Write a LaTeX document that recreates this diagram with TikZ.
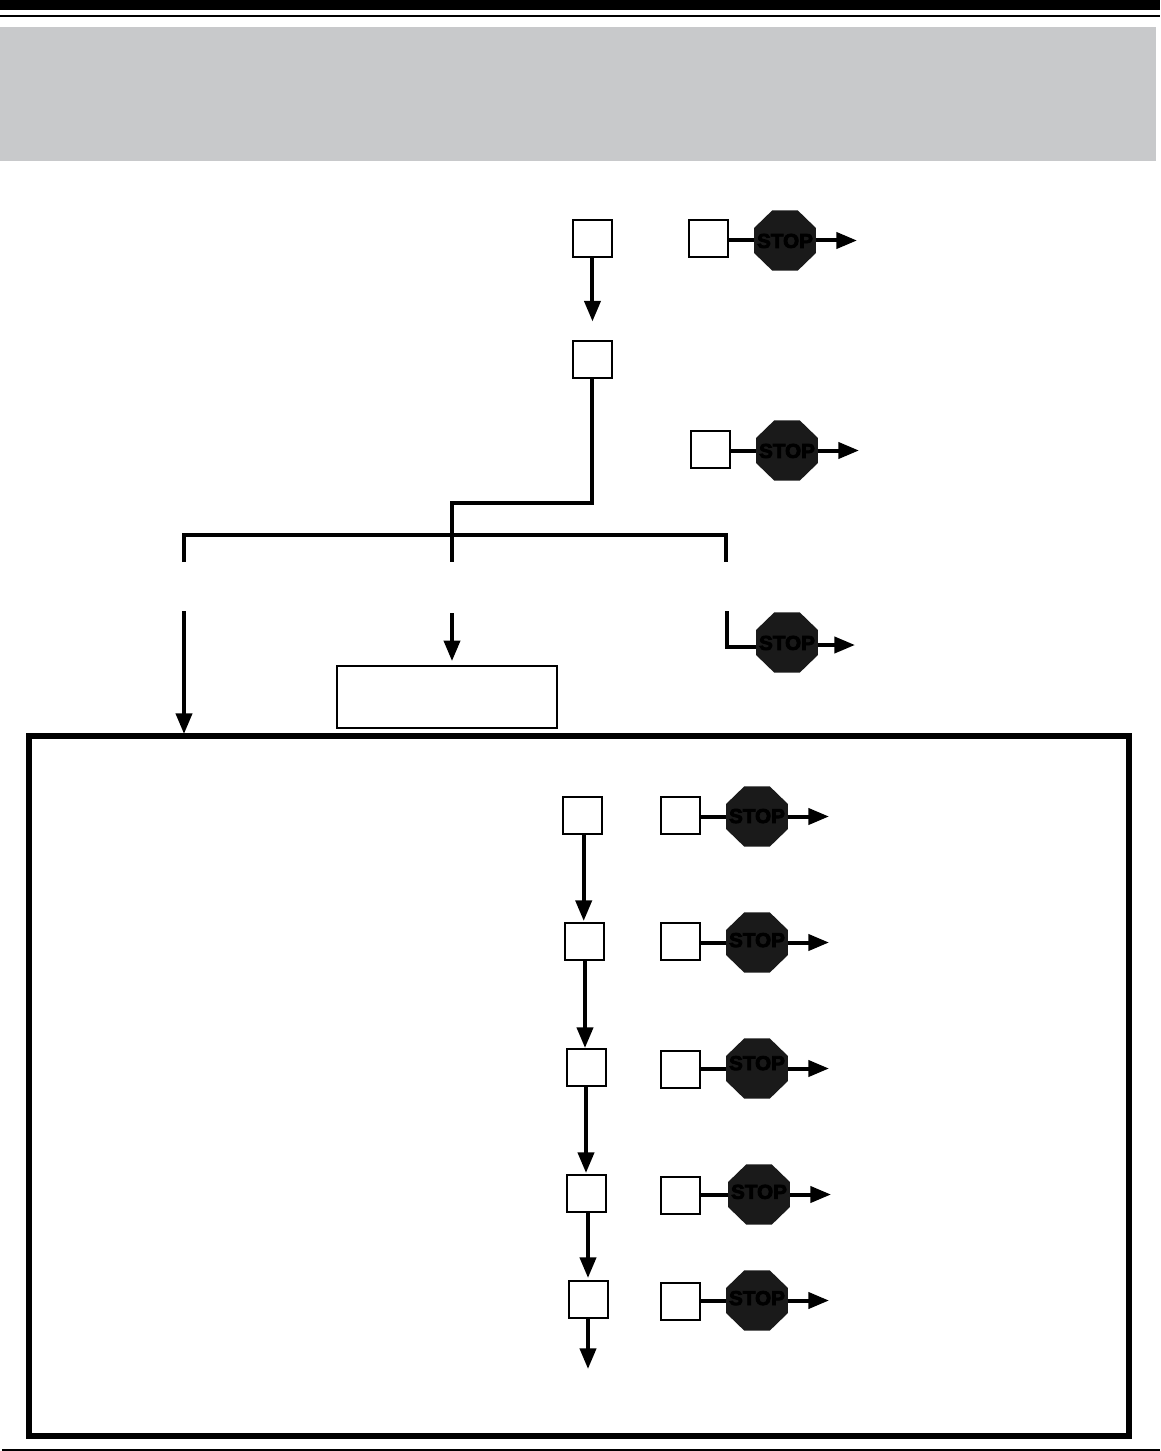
\documentclass[tikz,border=0pt]{standalone}
\usepackage{fontspec}
\usepackage{xcolor}
\usetikzlibrary{arrows.meta,shapes.geometric}
\newfontfamily\stopfont[FakeBold=4]{Liberation Sans Bold}
\definecolor{bandgray}{HTML}{C8C9CB}
\definecolor{signgray}{HTML}{1A1A1A}
\newcommand{\stoplabel}[1][0pt]{\smash{\makebox[0pt]{\raisebox{\dimexpr#1-5.7pt}{STOP}}}}

\begin{document}
\begin{tikzpicture}[
  x=0.75pt, y=-0.75pt,
  box/.style={draw, line width=1.5pt, minimum width=29.25pt, minimum height=27.75pt, inner sep=0pt, xshift=-0.4pt},
  stopsign/.style={regular polygon, regular polygon sides=8, fill=signgray, minimum size=50.3pt, inner sep=0pt, font=\stopfont\fontsize{15.5pt}{15.5pt}\selectfont, text=black, yscale=0.97, transform shape},
  conn/.style={line width=3pt},
  arr/.style={conn, -{Triangle[length=15.5pt, width=12pt]}},
  frame/.style={draw, line width=4.5pt}
]
\useasboundingbox (0,0) rectangle (1160,1451);
% header and footer
\fill (0,0) rectangle (1160,10);
\fill (0,15) rectangle (1160,17);
\fill[bandgray] (0,27) rectangle (1156,161);
\fill (2,1449) rectangle (1160,1451);

% upper part
\node[box] (q1) at (593,239) {};
\node[box] (q2) at (593,359) {};
\node[box] (n1) at (709,239) {};
\node[box] (n2) at (711,449) {};
\node[stopsign] (s1) at (785,240.5) {\stoplabel};
\node[stopsign] (s2) at (787,450.5) {\stoplabel};
\node[stopsign] (s3) at (787,642.5) {\stoplabel};
\coordinate (e1) at (857,240.5);
\coordinate (e2) at (859,450.5);
\coordinate (e3) at (855,645);
\coordinate (j1) at (816,647);
\draw[arr, shorten >=13.5pt] (q1) -- (q2);
\draw[conn] (n1.east |- s1) -- (s1);
\draw[conn] (n2.east |- s2) -- (s2);
\draw[arr] (s1.east) -- (e1);
\draw[arr] (s2.east) -- (e2);
\draw[arr] (s3.east |- e3) -- (e3);

% branches
\coordinate (bl) at (184,562);
\coordinate (bm) at (452,562);
\coordinate (br) at (726,562);
\coordinate (cl) at (184,611);
\coordinate (cm) at (452,613);
\coordinate (cr) at (727,611);
\node[box, minimum width=165pt, minimum height=46.5pt] (result) at (447.5,696.5) {};
\draw[conn] (q2.south) |- (452,503) -- (bm);
\draw[conn] (bl) |- (452,535) -| (br);
\draw[arr] (cl) -- (184,734);
\draw[arr, shorten >=2.5pt] (cm) -- (result.north -| cm);
\draw[conn] (cr) |- (s3.west |- j1);

% large frame
\node[frame, minimum width=825pt, minimum height=525pt, inner sep=0pt] (panel) at (579,1086) {};
\node[box] (p1) at (583,815) {};
\node[box] (p2) at (585,941) {};
\node[box] (p3) at (587,1067) {};
\node[box] (p4) at (587,1193) {};
\node[box] (p5) at (589,1299) {};
\foreach \name/\ny/\sx/\sy/\ex/\up in {1/815/757/816.5/829/0.7pt, 2/941/757/942.5/829/2.2pt, 3/1069/757/1068.5/829/4.5pt, 4/1195/759/1194.5/831/2.4pt, 5/1301/757/1300.5/829/2.2pt}{
  \node[box] (m\name) at (681,\ny) {};
  \node[stopsign] (t\name) at (\sx,\sy) {\stoplabel[\up]};
  \coordinate (f\name) at (\ex,\sy);
  \draw[conn] (m\name.east |- t\name) -- (t\name);
  \draw[arr] (t\name.east) -- (f\name);
}
\coordinate (p6) at (588,1369);
\draw[arr] (583.7,835) -- (583.7,921);
\draw[arr] (585,961) -- (585,1048);
\draw[arr] (586,1087) -- (586,1173);
\draw[arr] (588,1213) -- (588,1278);
\draw[arr] (p5.south -| p6) -- (p6);
\end{tikzpicture}
\end{document}
